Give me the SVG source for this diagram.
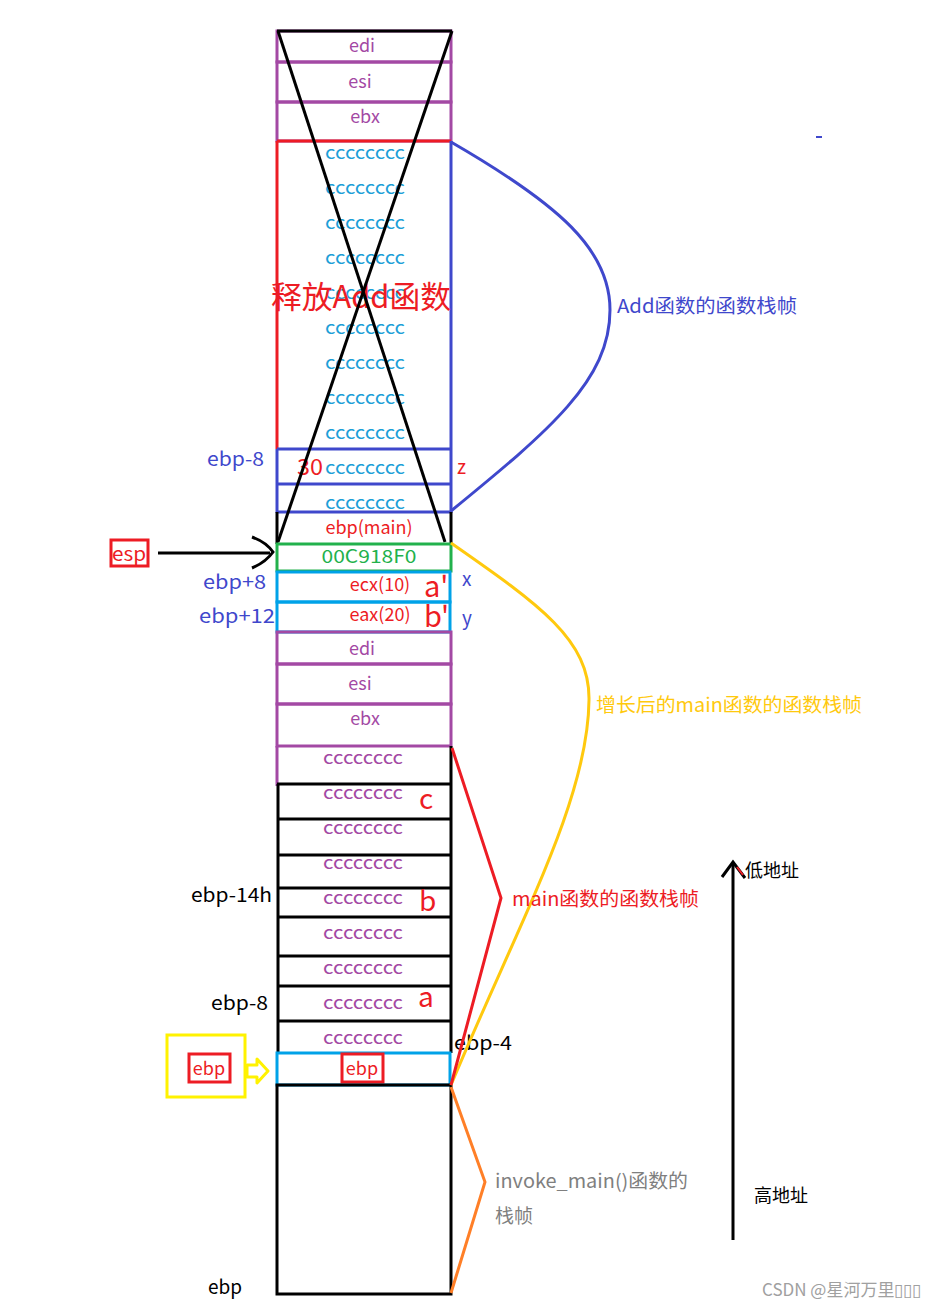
<svg xmlns="http://www.w3.org/2000/svg" width="949" height="1309" viewBox="0 0 949 1309">
<style>
text{font-family:"Noto Sans CJK SC","Noto Sans",sans-serif;dominant-baseline:central;transform:translate(0px,-2px)}
.t18{font-size:18px}
.c{text-anchor:middle}
.pur{fill:#a349a4}
.cy{fill:#1e9fd8}
.red{fill:#ed1c24}
.blu{fill:#3f48cc}
.blk{fill:#000}
.box{fill:none;stroke-width:3}
.sp{stroke:#a349a4}
.sr{stroke:#ed1c24}
.sb{stroke:#3f48cc}
.sk{stroke:#000}
.sg{stroke:#22b14c}
.sc{stroke:#00a2e8}
.sy{stroke:#ffc90e}
.so{stroke:#ff7f27}
</style>
<rect width="949" height="1309" fill="#fff"/>

<!-- Add frame (released) -->
<g id="add-frame">
  <rect class="box sp" x="277" y="31" width="174" height="31"/>
  <rect class="box sp" x="277" y="62" width="174" height="40"/>
  <rect class="box sp" x="277" y="102" width="174" height="39"/>
  <line class="box sk" x1="277" y1="31" x2="452" y2="31"/>
  <line class="box sr" x1="277" y1="141" x2="451" y2="141"/>
  <line class="box sr" x1="277" y1="141" x2="277" y2="449"/>
  <line class="box sb" x1="451" y1="141" x2="451" y2="513"/>
  <line class="box sb" x1="277" y1="449" x2="451" y2="449"/>
  <line class="box sb" x1="277" y1="484" x2="451" y2="484"/>
  <line class="box sb" x1="277" y1="512" x2="451" y2="512"/>
  <line class="box sb" x1="277" y1="449" x2="277" y2="513"/>
  <text class="t18 c pur" x="362" y="46">edi</text>
  <text class="t18 c pur" x="360" y="82">esi</text>
  <text class="t18 c pur" x="365" y="117">ebx</text>
  <text class="t18 c cy" x="365" y="153" textLength="80" lengthAdjust="spacingAndGlyphs">cccccccc</text>
  <text class="t18 c cy" x="365" y="188" textLength="80" lengthAdjust="spacingAndGlyphs">cccccccc</text>
  <text class="t18 c cy" x="365" y="223" textLength="80" lengthAdjust="spacingAndGlyphs">cccccccc</text>
  <text class="t18 c cy" x="365" y="258" textLength="80" lengthAdjust="spacingAndGlyphs">cccccccc</text>
  <text class="t18 c cy" x="365" y="293" textLength="80" lengthAdjust="spacingAndGlyphs">cccccccc</text>
  <text class="t18 c cy" x="365" y="328" textLength="80" lengthAdjust="spacingAndGlyphs">cccccccc</text>
  <text class="t18 c cy" x="365" y="363" textLength="80" lengthAdjust="spacingAndGlyphs">cccccccc</text>
  <text class="t18 c cy" x="365" y="398" textLength="80" lengthAdjust="spacingAndGlyphs">cccccccc</text>
  <text class="t18 c cy" x="365" y="433" textLength="80" lengthAdjust="spacingAndGlyphs">cccccccc</text>
  <text class="t18 c cy" x="365" y="468" textLength="80" lengthAdjust="spacingAndGlyphs">cccccccc</text>
  <text class="t18 c cy" x="365" y="503" textLength="80" lengthAdjust="spacingAndGlyphs">cccccccc</text>
  <text class="red" x="297" y="467" font-size="22" textLength="26" lengthAdjust="spacingAndGlyphs">30</text>
  <text class="red" x="271" y="296" font-size="31" textLength="180" lengthAdjust="spacingAndGlyphs">释放Add函数</text>
  <line class="box sk" x1="278" y1="31" x2="445" y2="542"/>
  <line class="box sk" x1="452" y1="31" x2="278" y2="542"/>
  <text class="blu" x="207" y="459" font-size="19" textLength="57" lengthAdjust="spacingAndGlyphs">ebp-8</text>
  <text class="red" x="457" y="467" font-size="19">z</text>
</g>

<!-- main frame -->
<g id="main-frame">
  <line class="box sk" x1="277" y1="512" x2="277" y2="544"/>
  <line class="box sk" x1="451" y1="512" x2="451" y2="544"/>
  <text class="t18 c red" x="369" y="528">ebp(main)</text>
  <rect class="box sg" x="277" y="544" width="174" height="27"/>
  <text class="t18 c" fill="#22b14c" x="369" y="557" textLength="95" lengthAdjust="spacingAndGlyphs">00C918F0</text>
  <rect class="box sc" x="277" y="572" width="173" height="30"/>
  <rect class="box sc" x="277" y="602" width="173" height="30"/>
  <text class="t18 c red" x="380" y="585">ecx(10)</text>
  <text class="t18 c red" x="380" y="615">eax(20)</text>
  <text class="red" x="424" y="586" font-size="29">a'</text>
  <text class="red" x="424" y="616" font-size="29">b'</text>
  <text class="blu" x="462" y="579" font-size="19">x</text>
  <text class="blu" x="462" y="618" font-size="19">y</text>
  <text class="blu" x="203" y="582" font-size="19" textLength="63" lengthAdjust="spacingAndGlyphs">ebp+8</text>
  <text class="blu" x="199" y="616" font-size="19" textLength="76" lengthAdjust="spacingAndGlyphs">ebp+12</text>

  <rect class="box sp" x="277" y="632" width="174" height="32"/>
  <rect class="box sp" x="277" y="664" width="174" height="40"/>
  <rect class="box sp" x="277" y="704" width="174" height="42"/>
  <text class="t18 c pur" x="362" y="649">edi</text>
  <text class="t18 c pur" x="360" y="684">esi</text>
  <text class="t18 c pur" x="365" y="719">ebx</text>

  <line class="box sp" x1="277" y1="746" x2="277" y2="786"/>
  <line class="box sk" x1="451" y1="746" x2="451" y2="1053"/>
  <line class="box sk" x1="278" y1="784" x2="278" y2="1053"/>
  <line class="box sk" x1="277" y1="784" x2="451" y2="784"/>
  <line class="box sk" x1="277" y1="819" x2="451" y2="819"/>
  <line class="box sk" x1="277" y1="855" x2="451" y2="855"/>
  <line class="box sk" x1="277" y1="888" x2="451" y2="888"/>
  <line class="box sk" x1="277" y1="917" x2="451" y2="917"/>
  <line class="box sk" x1="277" y1="956" x2="451" y2="956"/>
  <line class="box sk" x1="277" y1="986" x2="451" y2="986"/>
  <line class="box sk" x1="277" y1="1021" x2="451" y2="1021"/>
  <text class="t18 c pur" x="363" y="758" textLength="80" lengthAdjust="spacingAndGlyphs">cccccccc</text>
  <text class="t18 c pur" x="363" y="793" textLength="80" lengthAdjust="spacingAndGlyphs">cccccccc</text>
  <text class="t18 c pur" x="363" y="828" textLength="80" lengthAdjust="spacingAndGlyphs">cccccccc</text>
  <text class="t18 c pur" x="363" y="863" textLength="80" lengthAdjust="spacingAndGlyphs">cccccccc</text>
  <text class="t18 c pur" x="363" y="898" textLength="80" lengthAdjust="spacingAndGlyphs">cccccccc</text>
  <text class="t18 c pur" x="363" y="933" textLength="80" lengthAdjust="spacingAndGlyphs">cccccccc</text>
  <text class="t18 c pur" x="363" y="968" textLength="80" lengthAdjust="spacingAndGlyphs">cccccccc</text>
  <text class="t18 c pur" x="363" y="1003" textLength="80" lengthAdjust="spacingAndGlyphs">cccccccc</text>
  <text class="t18 c pur" x="363" y="1038" textLength="80" lengthAdjust="spacingAndGlyphs">cccccccc</text>
  <text class="red" x="419" y="799" font-size="28">c</text>
  <text class="red" x="419" y="901" font-size="28">b</text>
  <text class="red" x="418" y="997" font-size="28">a</text>
  <text class="blk" x="191" y="895" font-size="19" textLength="81" lengthAdjust="spacingAndGlyphs">ebp-14h</text>
  <text class="blk" x="211" y="1003" font-size="19" textLength="57" lengthAdjust="spacingAndGlyphs">ebp-8</text>
  <text class="blk" x="454" y="1043" font-size="19" textLength="58" lengthAdjust="spacingAndGlyphs">ebp-4</text>
</g>

<!-- ebp slot -->
<g id="ebp-slot">
  <rect class="box sc" x="277" y="1053" width="173" height="32"/>
  <rect class="box sr" x="342" y="1054" width="41" height="28"/>
  <text class="t18 c red" x="362" y="1069">ebp</text>
</g>

<!-- invoke_main frame -->
<g id="invoke-frame">
  <rect class="box sk" x="277" y="1085" width="174" height="209"/>
  <text class="blk" x="208" y="1287" font-size="19">ebp</text>
</g>

<!-- esp pointer -->
<g id="esp">
  <rect class="box sr" x="111" y="540" width="37" height="26"/>
  <text class="red" x="112" y="554" font-size="19" textLength="34" lengthAdjust="spacingAndGlyphs">esp</text>
</g>

<!-- ebp pointer -->
<g id="ebp-ptr">
  <rect class="box" stroke="#fff200" x="167" y="1035" width="78" height="62"/>
  <rect class="box sr" x="189" y="1054" width="41" height="28"/>
  <text class="t18 c red" x="209" y="1069">ebp</text>
  <path d="M247,1065 H257 V1059 L268,1071 L257,1083 V1077 H247 Z" fill="#fff" stroke="#fff200" stroke-width="3" stroke-linejoin="round"/>
</g>

<!-- address arrow -->
<g id="address-axis">
  <line class="box sk" x1="733" y1="862" x2="733" y2="1240"/>
  <path d="M722,877 L733,862 L745,878" fill="none" stroke="#000" stroke-width="3"/>
  <line x1="737" y1="867" x2="743" y2="875" stroke="#ed1c24" stroke-width="2"/>
  <text class="blk" x="745" y="871" font-size="18">低地址</text>
  <text class="blk" x="754" y="1196" font-size="18">高地址</text>
</g>

<!-- connectors: braces -->
<g id="connectors">
  <line class="box sk" x1="158" y1="553" x2="270" y2="553"/>
  <path d="M252,537 Q266,542 273,552 Q266,562 252,568" fill="none" stroke="#000" stroke-width="3"/>
  <path d="M451,142 C560,205 610,250 610,310 C610,380 550,430 451,511" fill="none" stroke="#3f48cc" stroke-width="3"/>
  <path d="M451,543 C540,605 590,640 589,700 C588,800 520,920 451,1085" fill="none" stroke="#ffc90e" stroke-width="3"/>
  <polyline points="452,748 501,898 451,1085" fill="none" stroke="#ed1c24" stroke-width="3"/>
  <polyline points="451,1087 485,1182 451,1293" fill="none" stroke="#ff7f27" stroke-width="3"/>
  <line x1="816" y1="137" x2="822" y2="137" stroke="#3f48cc" stroke-width="2"/>
</g>

<g id="labels">
  <text class="blu" x="617" y="306" font-size="19" textLength="180" lengthAdjust="spacingAndGlyphs">Add函数的函数栈帧</text>
  <text x="596" y="705" font-size="19" fill="#ffc90e" textLength="266" lengthAdjust="spacingAndGlyphs">增长后的main函数的函数栈帧</text>
  <text class="red" x="512" y="899" font-size="19" textLength="187" lengthAdjust="spacingAndGlyphs">main函数的函数栈帧</text>
  <text x="495" y="1181" font-size="19" fill="#7f7f7f" textLength="193" lengthAdjust="spacingAndGlyphs">invoke_main()函数的</text>
  <text x="495" y="1216" font-size="19" fill="#7f7f7f">栈帧</text>
  <text x="762" y="1290" font-size="17" fill="#a0a0a0">CSDN @星河万里▯▯▯</text>
</g>
</svg>
